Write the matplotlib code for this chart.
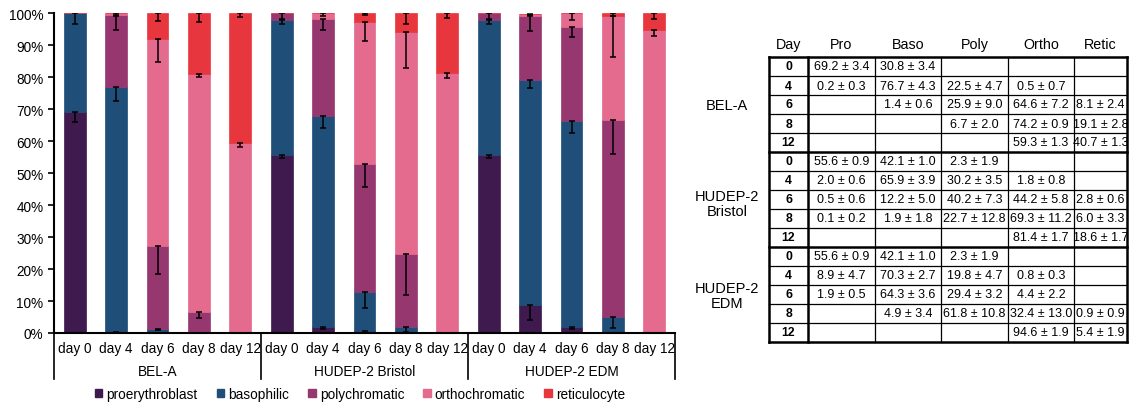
import matplotlib.pyplot as plt
import matplotlib.transforms as mtransforms
from matplotlib.patches import Patch
import numpy as np

plt.rcParams['font.family'] = ['Liberation Sans', 'DejaVu Sans']

# data (percent of cells, mean and sd) - from the table in the figure
groups = ['BEL-A', 'HUDEP-2 Bristol', 'HUDEP-2 EDM']
table_groups = ['BEL-A', 'HUDEP-2\nBristol', 'HUDEP-2\nEDM']
days = ['0', '4', '6', '8', '12']
stages = ['proerythroblast', 'basophilic', 'polychromatic', 'orthochromatic', 'reticulocyte']
short_names = ['Pro', 'Baso', 'Poly', 'Ortho', 'Retic']
colors = ['#3e1a4e', '#1f4e79', '#973770', '#e46a8e', '#e8363f']

pro_mean = [69.2, 0.2, None, None, None, 55.6, 2.0, 0.5, 0.1, None, 55.6, 8.9, 1.9, None, None]
pro_sd = [3.4, 0.3, None, None, None, 0.9, 0.6, 0.6, 0.2, None, 0.9, 4.7, 0.5, None, None]
baso_mean = [30.8, 76.7, 1.4, None, None, 42.1, 65.9, 12.2, 1.9, None, 42.1, 70.3, 64.3, 4.9, None]
baso_sd = [3.4, 4.3, 0.6, None, None, 1.0, 3.9, 5.0, 1.8, None, 1.0, 2.7, 3.6, 3.4, None]
poly_mean = [None, 22.5, 25.9, 6.7, None, 2.3, 30.2, 40.2, 22.7, None, 2.3, 19.8, 29.4, 61.8, None]
poly_sd = [None, 4.7, 9.0, 2.0, None, 1.9, 3.5, 7.3, 12.8, None, 1.9, 4.7, 3.2, 10.8, None]
ortho_mean = [None, 0.5, 64.6, 74.2, 59.3, None, 1.8, 44.2, 69.3, 81.4, None, 0.8, 4.4, 32.4, 94.6]
ortho_sd = [None, 0.7, 7.2, 0.9, 1.3, None, 0.8, 5.8, 11.2, 1.7, None, 0.3, 2.2, 13.0, 1.9]
retic_mean = [None, None, 8.1, 19.1, 40.7, None, None, 2.8, 6.0, 18.6, None, None, None, 0.9, 5.4]
retic_sd = [None, None, 2.4, 2.8, 1.3, None, None, 0.6, 3.3, 1.7, None, None, None, 0.9, 1.9]

means = [pro_mean, baso_mean, poly_mean, ortho_mean, retic_mean]
sds = [pro_sd, baso_sd, poly_sd, ortho_sd, retic_sd]

W, H = 1131, 406
fig = plt.figure(figsize=(W / 100, H / 100), dpi=100)

# ---- stacked bar chart ----
ax = fig.add_axes([54 / W, 1 - 334 / H, (675 - 54) / W, (334 - 14) / H])
x = np.arange(15)
bottom = np.zeros(15)
for m, s, c, name in zip(means, sds, colors, stages):
    vals = np.array([v if v is not None else 0.0 for v in m])
    ax.bar(x, vals, width=0.53, bottom=bottom, color=c, edgecolor=c, linewidth=0.5, label=name, zorder=2)
    tops = bottom + vals
    idx = [i for i in range(15) if m[i] is not None]
    err = [s[i] for i in idx]
    # only the lower half of the error bar is drawn, at the top of each segment
    ax.errorbar(x[idx], np.minimum(tops[idx], 100), yerr=[err, np.zeros(len(idx))], fmt='none',
                ecolor='black', elinewidth=1.1, capsize=2.5, capthick=1.1, zorder=3)
    bottom = tops

ax.set_xlim(-0.5, 14.5)
ax.set_ylim(0, 100)
ax.set_yticks(np.arange(0, 101, 10))
ax.set_yticklabels([f'{v}%' for v in range(0, 101, 10)], fontsize=9.8)
ax.set_xticks(x)
ax.set_xticklabels(['day ' + d for d in days] * 3, fontsize=9.8)
ax.tick_params(axis='x', length=0, pad=6)
ax.tick_params(axis='y', length=4, width=1.2, direction='out')
ax.spines['top'].set_visible(False)
ax.spines['right'].set_visible(False)
ax.spines['left'].set_linewidth(1.5)
ax.spines['bottom'].set_linewidth(1.5)

trans = mtransforms.blended_transform_factory(ax.transData, ax.transAxes)
for xs in [-0.5, 4.5, 9.5, 14.5]:
    ax.plot([xs, xs], [0, -0.145], color='black', lw=1.2, transform=trans, clip_on=False)
for g, name in enumerate(groups):
    ax.text(g * 5 + 2, -0.12, name, transform=trans, ha='center', va='center', fontsize=9.8)

handles = [Patch(facecolor=c, edgecolor=c) for c in colors]
fig.legend(handles, stages, loc='center', bbox_to_anchor=(360 / W, 1 - 395 / H), ncol=5,
           frameon=False, fontsize=9.8, handlelength=0.55, handleheight=0.55,
           handletextpad=0.3, columnspacing=1.4)

# ---- table on the right ----
tx = fig.add_axes([0, 0, 1, 1])
tx.set_xlim(0, W)
tx.set_ylim(H, 0)
tx.axis('off')
tx.patch.set_alpha(0)

col_edges = [769, 808, 875, 941, 1008, 1074, 1127]
row_top, row_h = 58, 19.0
n_rows = 15

# header
header = ['Day'] + short_names
for j, txt in enumerate(header):
    tx.text((col_edges[j] + col_edges[j + 1]) / 2, 45, txt, ha='center', va='center', fontsize=10.3)

# grid lines
for r in range(n_rows + 1):
    y = row_top + r * row_h
    thick = r % 5 == 0
    tx.plot([col_edges[0], col_edges[-1]], [y, y], color='black', lw=1.8 if thick else 0.9)
for j, xe in enumerate(col_edges):
    thick = j in (0, 1, len(col_edges) - 1)
    tx.plot([xe, xe], [row_top, row_top + n_rows * row_h], color='black', lw=1.8 if thick else 0.9)

# cells
for r in range(n_rows):
    yc = row_top + (r + 0.5) * row_h
    tx.text((col_edges[0] + col_edges[1]) / 2, yc, days[r % 5], ha='center', va='center',
            fontsize=8.8, fontweight='bold')
    for k in range(5):
        m, s = means[k][r], sds[k][r]
        if m is None:
            continue
        tx.text((col_edges[k + 1] + col_edges[k + 2]) / 2, yc, f'{m} \u00b1 {s}', ha='center',
                va='center', fontsize=9)

# group labels
for g, name in enumerate(table_groups):
    yc = row_top + (g * 5 + 2.5) * row_h + (4 if g == 1 else 1)
    tx.text(727, yc, name, ha='center', va='center', fontsize=10.5, linespacing=1.15)

fig.savefig('out.png', dpi=100)
